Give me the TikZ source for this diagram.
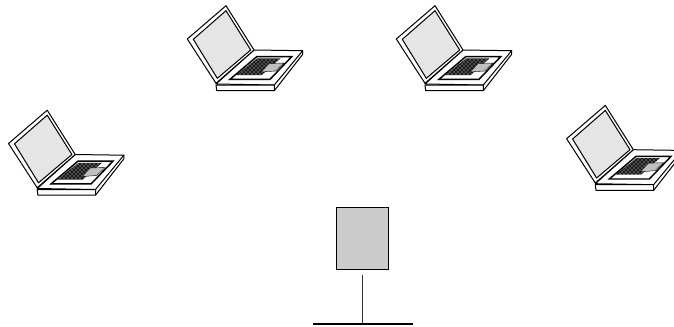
\documentclass[tikz,border=0pt]{standalone}
\usepackage{xcolor}
\usetikzlibrary{patterns, positioning}
\tikzset{
    laptopline/.style={draw=black, line width=0.75pt, line join=round},
    server/.style={draw=black, fill=black!20, line width=0.8pt, minimum width=39.5pt, minimum height=47pt, inner sep=0pt},
    stub/.style={black!80, line width=0.8pt},
    bus/.style={black, line width=0.8pt},
    laptop/.pic={
        % base
        \filldraw[laptopline, fill=white] (36,84) -- (74,50) -- (122.7,50.7) -- (94.3,85) -- cycle;
        \filldraw[laptopline, fill=white] (36,85) -- (94.3,85) -- (94.3,90.7) -- (36.7,90.7) -- cycle;
        \draw[laptopline] (94.3,90.7) -- (122.7,54.3) -- (122.7,50.7);
        % keyboard
        \filldraw[draw=black, line width=1.1pt, fill=white] (50,79.3) -- (90,79.3) -- (111.7,56.7) -- (76.7,56.7) -- cycle;
        \fill[black!90] (56,75) -- (81.7,75) -- (100.7,58.3) -- (77.3,58.3) -- cycle;
        \fill[pattern=crosshatch dots, pattern color=white] (56,75) -- (81.7,75) -- (100.7,58.3) -- (77.3,58.3) -- cycle;
        \filldraw[draw=black, line width=0.3pt, fill=black!25] (81,72) -- (95.5,71) -- (104,63) -- (89,63.5) -- cycle;
        % screen
        \filldraw[laptopline, fill=white] (7.3,39) -- (46,5.7) -- (74,50) -- (36,83.3) -- cycle;
        \filldraw[laptopline, fill=black!10] (13.3,39.3) -- (46,10.7) -- (70.7,50) -- (37.3,78.3) -- cycle;
    }
}

\begin{document}
\begin{tikzpicture}[x=0.75pt, y=-0.75pt]
    \useasboundingbox (0,0) rectangle (674,326);
    \pic at (1.2,104.5) {laptop};
    \pic at (180,0) {laptop};
    \pic at (389,0) {laptop};
    \pic at (559.3,99.7) {laptop};
    \node[server] (host) at (362.5,238.5) {};
    \coordinate (tap) at (362.5,324);
    \coordinate (busleft) at (313,324);
    \coordinate (busright) at (412.5,324);
    \draw[stub] (362.5,275) -- (tap);
    \draw[bus] (busleft) -- (busright);
\end{tikzpicture}
\end{document}
